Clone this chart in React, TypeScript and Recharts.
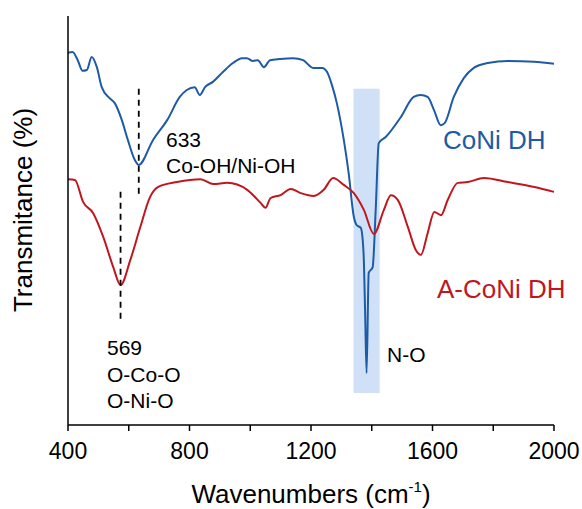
import React from "react";
import {
  LineChart,
  Line,
  XAxis,
  YAxis,
  ReferenceArea,
  ReferenceLine,
  Label,
} from "recharts";

// wavenumbers (cm-1) and transmittance (%)
const coniWn = [
  400, 415, 432, 448, 462, 478, 495, 511, 537, 554, 577, 597, 620, 633, 680,
  727, 768, 791, 817, 834, 851, 877, 910, 943, 973, 989, 1009, 1025, 1045,
  1065, 1098, 1141, 1174, 1207, 1237, 1253, 1269, 1285, 1308, 1324, 1341, 1350,
  1364, 1373, 1378, 1383, 1390, 1403, 1413, 1423, 1446, 1496, 1538, 1561, 1584,
  1605, 1627, 1640, 1670, 1703, 1736, 1782, 1848, 1935, 2000,
];
const coniT = [
  91.0, 91.2, 89.2, 86.6, 86.8, 90.0, 87.5, 82.6, 79.9, 78.7, 74.6, 69.7, 64.8,
  63.6, 69.7, 74.6, 80.2, 81.9, 82.6, 80.7, 82.6, 83.9, 86.3, 88.5, 89.7, 89.7,
  89.0, 89.2, 87.5, 89.2, 89.5, 89.7, 89.2, 87.3, 87.3, 86.3, 83.1, 78.7, 69.7,
  61.6, 50.9, 48.9, 48.2, 42.1, 28.1, 12.7, 37.2, 38.6, 52.6, 68.9, 70.4, 75.3,
  80.2, 80.7, 80.2, 77.0, 73.3, 73.8, 80.2, 84.8, 87.3, 88.5, 89.0, 88.8, 88.3,
];

const aconiWn = [
  400, 423, 450, 483, 516, 549, 573, 605, 638, 670, 697, 759, 836, 879, 924,
  990, 1034, 1050, 1067, 1100, 1133, 1166, 1209, 1242, 1273, 1308, 1341, 1374,
  1407, 1440, 1463, 1486, 1519, 1545, 1562, 1584, 1606, 1628, 1650, 1683, 1716,
  1769, 1848, 1935, 2000,
];
const aconiT = [
  60.1, 59.9, 54.5, 51.8, 46.0, 38.6, 34.2, 40.3, 48.4, 55.7, 58.2, 59.4, 60.1,
  58.9, 59.2, 57.5, 54.3, 53.1, 55.5, 56.2, 57.7, 56.7, 56.0, 57.5, 60.4, 58.7,
  56.7, 52.6, 46.7, 52.6, 56.2, 55.0, 48.4, 42.8, 41.6, 46.9, 52.1, 51.3, 55.0,
  59.2, 59.4, 60.4, 59.4, 58.2, 57.0,
];

const xTicks = [400, 600, 800, 1000, 1200, 1400, 1600, 1800, 2000];

const coniData = coniWn.map((wn, i) => ({ wn, t: coniT[i] }));
const aconiData = aconiWn.map((wn, i) => ({ wn, t: aconiT[i] }));

const BLUE = "#1d5ba6";
const RED = "#c0171f";
const FONT = "'Liberation Sans', Arial, Helvetica, sans-serif";

export default function App() {
  return (
    <div style={{ position: "absolute", left: 0, top: 0 }}>
      <LineChart
        width={582}
        height={509}
        margin={{ top: 16, right: 28, left: 0, bottom: 0 }}
        style={{ fontFamily: FONT }}
      >
        <ReferenceArea
          x1={1340}
          x2={1426}
          y1={7.8}
          y2={82.2}
          fill="#a9c9f0"
          fillOpacity={0.55}
          stroke="none"
        />
        <XAxis
          type="number"
          dataKey="wn"
          domain={[400, 2000]}
          ticks={xTicks}
          interval={0}
          tickFormatter={(v) => (v % 400 === 0 ? String(v) : "")}
          height={84}
          tickSize={6}
          tickMargin={12}
          tick={{ fill: "#000", fontSize: 23, fontFamily: FONT }}
          axisLine={{ stroke: "#000", strokeWidth: 1.5 }}
          tickLine={{ stroke: "#000", strokeWidth: 1.5 }}
        >
          <Label
            content={() => (
              <text
                x={311}
                y={503}
                textAnchor="middle"
                fontSize={26}
                fontFamily={FONT}
                fill="#000"
              >
                Wavenumbers (cm
                <tspan dy={-11} fontSize={15}>
                  -1
                </tspan>
                <tspan dy={11}>)</tspan>
              </text>
            )}
          />
        </XAxis>
        <YAxis
          type="number"
          domain={[0, 100]}
          width={68}
          tick={false}
          tickLine={false}
          axisLine={{ stroke: "#000", strokeWidth: 1.5 }}
        >
          <Label
            content={() => (
              <text
                transform="translate(32,210) rotate(-90)"
                textAnchor="middle"
                fontSize={26}
                fontFamily={FONT}
                fill="#000"
              >
                Transmitance (%)
              </text>
            )}
          />
        </YAxis>
        <Line
          type="monotone"
          data={coniData}
          dataKey="t"
          stroke={BLUE}
          strokeWidth={2}
          dot={false}
          isAnimationActive={false}
        />
        <Line
          type="monotone"
          data={aconiData}
          dataKey="t"
          stroke={RED}
          strokeWidth={2}
          dot={false}
          isAnimationActive={false}
        />
        <ReferenceLine
          segment={[
            { x: 633, y: 82.2 },
            { x: 633, y: 55.7 },
          ]}
          stroke="#000"
          strokeWidth={1.8}
          strokeDasharray="6 5"
          label={{
            content: () => (
              <g fontFamily={FONT} fontSize={21} fill="#000">
                <text x={166} y={147}>633</text>
                <text x={166} y={173}>Co-OH/Ni-OH</text>
              </g>
            ),
          }}
        />
        <ReferenceLine
          segment={[
            { x: 573, y: 57.0 },
            { x: 573, y: 24.9 },
          ]}
          stroke="#000"
          strokeWidth={1.8}
          strokeDasharray="6 5"
          label={{
            content: () => (
              <g fontFamily={FONT} fontSize={21} fill="#000">
                <text x={107} y={355}>569</text>
                <text x={107} y={382}>O-Co-O</text>
                <text x={107} y={408}>O-Ni-O</text>
                <text x={387} y={362}>N-O</text>
                <text x={443} y={149} fontSize={26} fill={BLUE}>
                  CoNi DH
                </text>
                <text x={437} y={298} fontSize={26} fill={RED}>
                  A-CoNi DH
                </text>
              </g>
            ),
          }}
        />
      </LineChart>
    </div>
  );
}
